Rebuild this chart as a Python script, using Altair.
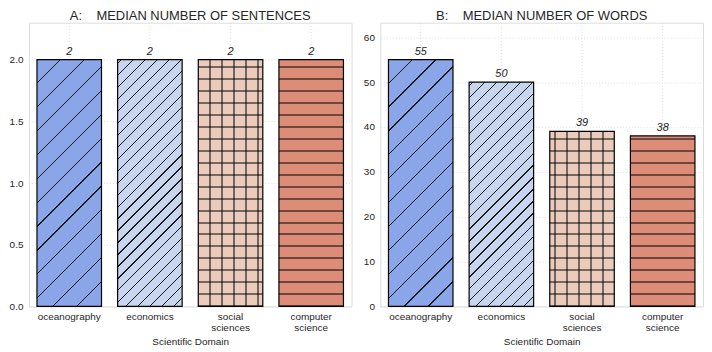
import math
import altair as alt
import pandas as pd

# ---- data -------------------------------------------------------------
categories = ["oceanography", "economics", "social sciences", "computer science"]
sentences = [2, 2, 2, 2]
words = [55, 50, 39, 38]

# ---- style --------------------------------------------------------------
bg_colors = ["#8aa6e8", "#c7d6ee", "#eacbbc", "#dd8d77"]
TEXT = "#262626"
FONT = "Liberation Sans"
PW, PH = 324, 285
P_INNER, P_OUTER = 0.2, 0.1
STEP = PW / (len(categories) - P_INNER + 2 * P_OUTER)
BW = STEP * (1 - P_INNER)


def mix_black(hexcol, a):
    r, g, b = (int(hexcol[i:i + 2], 16) for i in (1, 3, 5))
    return "#%02x%02x%02x" % (round(r * (1 - a)), round(g * (1 - a)), round(b * (1 - a)))


def stops(bg, lc, centers, half, total):
    segs = []
    for c in centers:
        a, b = (c - half) / total, (c + half) / total
        if b <= 0 or a >= 1:
            continue
        segs.append((max(0.0, a), min(1.0, b)))
    segs.sort()
    out = [alt.GradientStop(color=bg, offset=0)]
    for a, b in segs:
        a, b = round(a, 5), round(b, 5)
        out += [alt.GradientStop(color=bg, offset=a), alt.GradientStop(color=lc, offset=a),
                alt.GradientStop(color=lc, offset=b), alt.GradientStop(color=bg, offset=b)]
    out.append(alt.GradientStop(color=bg, offset=1))
    return out


def diag(bg, lc, spacing, lw, w, h, phase):
    total = w + h
    centers = []
    c = phase % spacing - spacing
    while c < total + spacing:
        centers.append(c)
        c += spacing
    half = lw * math.sqrt(2) / 2
    k = (w + h) / (w * w + h * h)
    return alt.LinearGradient(gradient="linear", x1=0, y1=0, x2=round(w * k, 6), y2=round(h * k, 6),
                              stops=stops(bg, lc, centers, half, total))


def horiz(bg, lc, spacing, lw, h, phase):
    centers = []
    d = phase
    while d < h + spacing:
        centers.append(h - d)
        d += spacing
    return alt.LinearGradient(gradient="linear", x1=0, y1=0, x2=0, y2=1,
                              stops=stops(bg, lc, centers, lw / 2, h))


def vert(bg, lc, spacing, lw, w, phase):
    centers = []
    x = phase
    while x < w + spacing:
        centers.append(x)
        x += spacing
    return alt.LinearGradient(gradient="linear", x1=0, y1=0, x2=1, y2=0,
                              stops=stops(bg, lc, centers, lw / 2, w))


def panel(values, title, fmt, tick_values, vphase):
    ymax = max(values) * 1.15
    df = pd.DataFrame({"domain": categories, "value": values})
    grid = dict(grid=True, gridColor="#d5d5d5", gridDash=[1, 2], gridWidth=0.8,
                ticks=False, domain=False, labelColor=TEXT, labelFontSize=10, labelFont=FONT)
    x = alt.X("domain:N",
              scale=alt.Scale(domain=categories, paddingInner=P_INNER, paddingOuter=P_OUTER),
              axis=alt.Axis(labelAngle=0, labelPadding=5, labelExpr="split(datum.label, ' ')",
                            labelLineHeight=11.5, title="Scientific Domain", titleFontSize=10,
                            titleFontWeight="normal", titleColor=TEXT, titleFont=FONT,
                            titlePadding=4, **grid))
    y = alt.Y("value:Q", scale=alt.Scale(domain=[0, ymax], nice=False, zero=True),
              axis=alt.Axis(values=tick_values, format=fmt, labelPadding=6, title=None, **grid))
    base = alt.Chart(df).encode(x=x, y=y)
    layers = []
    for i, cat in enumerate(categories):
        h = values[i] / ymax * PH
        bg = bg_colors[i]
        if i == 0:
            fill = diag(bg, "#1a1a1a", 24, 0.9, BW, h, 23.6)
        elif i == 1:
            fill = diag(bg, "#1a1a1a", 12, 0.9, BW, h, 4)
        else:
            fill = horiz(bg, mix_black(bg, 0.5), 12, 2, h, 0.3)
        layers.append(base.transform_filter(f"datum.domain == '{cat}'")
                      .mark_bar(fill=fill, strokeWidth=0))
        if i == 2:
            layers.append(base.transform_filter(f"datum.domain == '{cat}'")
                          .mark_bar(fill=vert("rgba(0,0,0,0)", "rgba(0,0,0,0.5)", 12, 2, BW, vphase),
                                    strokeWidth=0))
    layers.append(base.mark_bar(fillOpacity=0, stroke="black", strokeWidth=1.2))
    layers.append(base.mark_text(baseline="bottom", dy=-3, fontSize=11, fontStyle="italic",
                                 color=TEXT, font=FONT).encode(text=alt.Text("value:Q", format="d")))
    return alt.layer(*layers).properties(
        width=PW, height=PH,
        title=alt.TitleParams(title, frame="group", fontSize=13, fontWeight="normal",
                              color=TEXT, font=FONT, offset=0))


left = panel(sentences, "A:\u00a0\u00a0\u00a0\u00a0MEDIAN NUMBER OF SENTENCES", ".1f",
             [0, 0.5, 1.0, 1.5, 2.0], 12)
right = panel(words, "B:\u00a0\u00a0\u00a0\u00a0MEDIAN NUMBER OF WORDS", "d",
              [0, 10, 20, 30, 40, 50, 60], 5.7)

chart = (alt.hconcat(left, right, spacing=10)
         .properties(padding=0)
         .configure_view(stroke="#cccccc", strokeWidth=1)
         .configure(font=FONT, background="white"))

chart.save("out.html", embed_options={"renderer": "svg", "actions": False})
